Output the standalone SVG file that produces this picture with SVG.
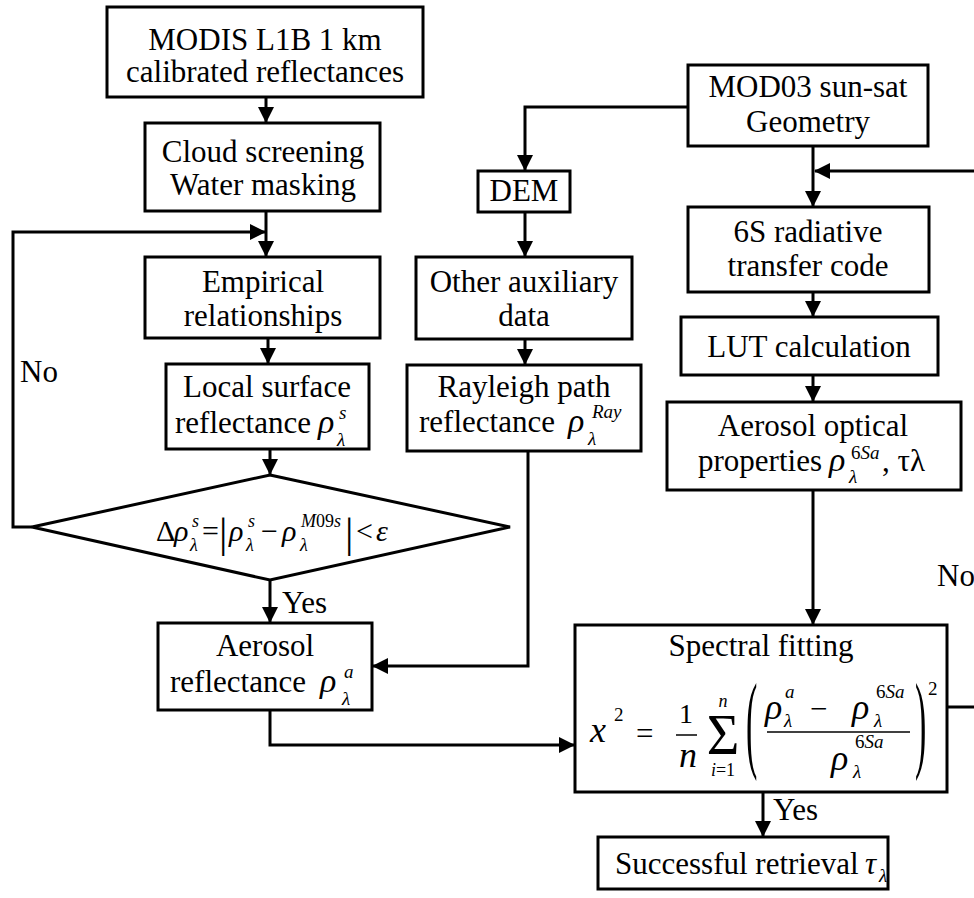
<svg xmlns="http://www.w3.org/2000/svg" width="974" height="898" viewBox="0 0 974 898">
<defs>
<marker id="ah" viewBox="0 0 16 16" refX="15" refY="8" markerWidth="16" markerHeight="16" markerUnits="userSpaceOnUse" orient="auto">
<path d="M0,0 L16,8 L0,16 z" fill="#000"/>
</marker>
<style>
.bx{fill:#fff;stroke:#000;stroke-width:3}
.cn{fill:none;stroke:#000;stroke-width:3;marker-end:url(#ah)}
text{font-family:"Liberation Serif","Times New Roman",serif;font-size:31px;fill:#000}
.c{text-anchor:middle}
.i{font-style:italic}
.sc{font-size:19px}
.fs{font-size:18px}
.fm{font-size:30px}
.big{font-size:34px}
</style>
</defs>
<rect width="974" height="898" fill="#fff"/>

<!-- connectors and their labels -->
<g id="connectors">
<path class="cn" d="M266,97 V122"/>
<path class="cn" d="M266,211 V256"/>
<path class="cn" d="M32,527 H13 V232 H265"/>
<path class="cn" d="M268,338 V363"/>
<path class="cn" d="M270,449 V474"/>
<path class="cn" d="M270,580 V622"/>
<path class="cn" d="M688,107 H525 V170"/>
<path class="cn" d="M525,212 V256"/>
<path class="cn" d="M525,339 V364"/>
<path class="cn" d="M528,451 V666 H373"/>
<path class="cn" d="M813,146 V206"/>
<path class="cn" d="M947,707 H990 V171 H815"/>
<path class="cn" d="M813,292 V316"/>
<path class="cn" d="M813,375 V401"/>
<path class="cn" d="M813,490 V624"/>
<path class="cn" d="M270,710 V745 H574"/>
<path class="cn" d="M763,792 V836"/>
<text x="20" y="382">No</text>
<text x="282" y="613">Yes</text>
<text x="937" y="586">No</text>
<text x="773" y="820">Yes</text>
</g>

<g id="modis">
<rect class="bx" x="107" y="7" width="316" height="90"/>
<text class="c" x="265" y="50">MODIS L1B 1 km</text>
<text class="c" x="265" y="82">calibrated reflectances</text>
</g>

<g id="cloud">
<rect class="bx" x="145" y="123" width="235" height="88"/>
<text class="c" x="263" y="162">Cloud screening</text>
<text class="c" x="263" y="195">Water masking</text>
</g>

<g id="empirical">
<rect class="bx" x="145" y="257" width="235" height="81"/>
<text class="c" x="263" y="292">Empirical</text>
<text class="c" x="263" y="326">relationships</text>
</g>

<g id="local-surface">
<rect class="bx" x="166" y="364" width="203" height="85"/>
<text class="c" x="267" y="397">Local surface</text>
<text x="175" y="433">reflectance</text>
<text class="i big" x="318" y="433">ρ</text>
<text class="i sc" x="339" y="419">s</text>
<text class="i sc" x="337" y="446">λ</text>
</g>

<g id="check">
<polygon class="bx" points="270,475 510,527 270,580 32,527"/>
<text class="fm" x="156" y="541">Δ</text>
<text class="fm i" x="174" y="541">ρ</text>
<text class="fs i" x="192" y="527">s</text>
<text class="fs i" x="190" y="551">λ</text>
<text class="fm" x="202" y="541">=</text>
<text style="font-size:42px" x="219" y="547">|</text>
<text class="fm i" x="229" y="541">ρ</text>
<text class="fs i" x="248" y="527">s</text>
<text class="fs i" x="246" y="551">λ</text>
<text class="fm" x="261" y="541">−</text>
<text class="fm i" x="282" y="541">ρ</text>
<text class="fs" x="301" y="527"><tspan class="i">M</tspan>09<tspan class="i">s</tspan></text>
<text class="fs i" x="300" y="551">λ</text>
<text style="font-size:42px" x="345" y="547">|</text>
<text class="fm" x="356" y="541">&lt;</text>
<text class="fm i" x="376" y="541">ε</text>
</g>

<g id="aerosol-reflectance">
<rect class="bx" x="158" y="623" width="214" height="87"/>
<text class="c" x="265" y="656">Aerosol</text>
<text x="170" y="692">reflectance</text>
<text class="i big" x="320" y="692">ρ</text>
<text class="i sc" x="344" y="678">a</text>
<text class="i sc" x="342" y="705">λ</text>
</g>

<g id="mod03">
<rect class="bx" x="688" y="65" width="240" height="81"/>
<text class="c" x="808" y="97">MOD03 sun-sat</text>
<text class="c" x="808" y="132">Geometry</text>
</g>

<g id="dem">
<rect class="bx" x="478" y="171" width="92" height="41"/>
<text class="c" x="524" y="201">DEM</text>
</g>

<g id="auxiliary">
<rect class="bx" x="416" y="257" width="216" height="82"/>
<text class="c" x="524" y="292">Other auxiliary</text>
<text class="c" x="524" y="326">data</text>
</g>

<g id="rayleigh">
<rect class="bx" x="407" y="365" width="234" height="86"/>
<text class="c" x="524" y="397">Rayleigh path</text>
<text x="419" y="432">reflectance</text>
<text class="i big" x="568" y="432">ρ</text>
<text class="i sc" x="592" y="418">Ray</text>
<text class="i sc" x="588" y="445">λ</text>
</g>

<g id="radiative">
<rect class="bx" x="688" y="207" width="241" height="85"/>
<text class="c" x="808" y="242">6S radiative</text>
<text class="c" x="808" y="276">transfer code</text>
</g>

<g id="lut">
<rect class="bx" x="681" y="317" width="257" height="58"/>
<text class="c" x="809" y="357">LUT calculation</text>
</g>

<g id="aerosol-optical">
<rect class="bx" x="667" y="402" width="294" height="88"/>
<text class="c" x="813" y="436">Aerosol optical</text>
<text x="698" y="471">properties</text>
<text class="i big" x="829" y="471">ρ</text>
<text class="sc" x="851" y="459">6<tspan class="i">Sa</tspan></text>
<text class="i sc" x="849" y="483">λ</text>
<text x="882" y="471">, τλ</text>
</g>

<g id="spectral-fitting">
<rect class="bx" x="575" y="625" width="372" height="167"/>
<text class="c" x="761" y="656">Spectral fitting</text>
<text class="i" style="font-size:36px" x="590" y="742">x</text>
<text class="sc" x="614" y="721">2</text>
<text x="636" y="744">=</text>
<text class="c" style="font-size:28px" x="686" y="723">1</text>
<line x1="676" y1="735" x2="697" y2="735" stroke="#000" stroke-width="1.5"/>
<text class="c i" style="font-size:36px" x="688" y="767">n</text>
<text class="c" style="font-size:56px" x="723" y="754">Σ</text>
<text class="c i fs" x="723" y="707">n</text>
<text class="c fs" x="723" y="776"><tspan class="i">i</tspan>=1</text>
<text transform="translate(746,758) scale(1,3.2)" style="font-size:34px">(</text>
<text class="i" style="font-size:36px" x="765" y="719">ρ</text>
<text class="i sc" x="785" y="698">a</text>
<text class="i sc" x="784" y="727">λ</text>
<text x="810" y="719">−</text>
<text class="i" style="font-size:36px" x="852" y="719">ρ</text>
<text class="sc" x="876" y="698">6<tspan class="i">Sa</tspan></text>
<text class="i sc" x="874" y="727">λ</text>
<line x1="767" y1="732" x2="910" y2="732" stroke="#000" stroke-width="1.5"/>
<text class="i" style="font-size:36px" x="831" y="770">ρ</text>
<text class="sc" x="855" y="748">6<tspan class="i">Sa</tspan></text>
<text class="i sc" x="853" y="778">λ</text>
<text transform="translate(915,758) scale(1,3.2)" style="font-size:34px">)</text>
<text class="sc" x="928" y="695">2</text>
</g>

<g id="success">
<rect class="bx" x="598" y="837" width="290" height="52"/>
<text x="615" y="874">Successful retrieval</text>
<text class="i" x="865" y="874">τ</text>
<text class="i sc" x="879" y="882">λ</text>
</g>
</svg>
